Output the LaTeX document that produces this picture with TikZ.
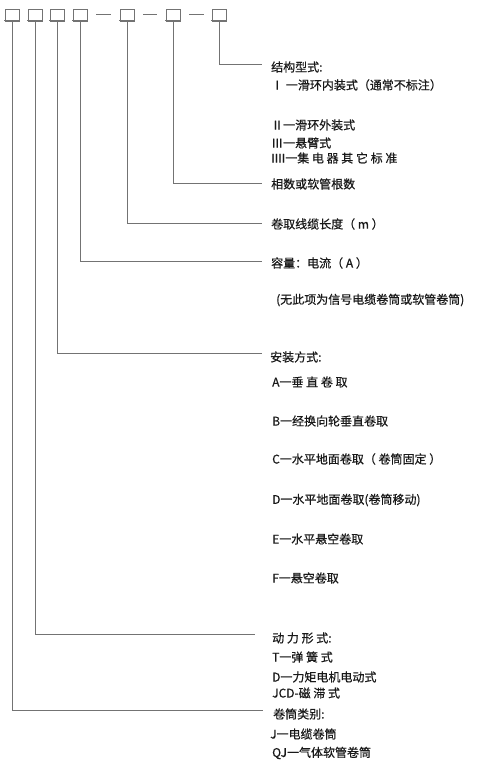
\documentclass[tikz,border=0pt]{standalone}
\usepackage{fontspec}
\setmainfont{Noto Sans CJK SC}[UprightFeatures={FakeBold=0.6}]
\begin{document}
\begin{tikzpicture}[x=1pt,y=-1pt,
  cell/.style={draw=black!55,line width=0.9pt,minimum width=14pt,minimum height=12pt,inner sep=0pt,fill=white},
  conn/.style={draw=black!55,line width=0.9pt},
  lbl/.style={anchor=west,inner sep=0pt,text=black!90,font=\fontsize{12}{14}\selectfont}]
\useasboundingbox (0,0) rectangle (494,765);
% boxes
\foreach \n/\x in {1/12,2/35,3/57,4/80,5/127,6/173,7/219}{
  \node[cell] (b\n) at (\x,15) {};
  \draw[conn] ([xshift=-0.5pt,yshift=1.3pt]b\n.south west) -- ([xshift=0.5pt,yshift=1.3pt]b\n.south east);
}
\draw[conn] (96,14) -- (111,14);
\draw[conn] (143,14) -- (157,14);
\draw[conn] (189,14) -- (204,14);
% end coordinates
\coordinate (c7) at (262,64);
\coordinate (c6) at (262,183);
\coordinate (c5) at (262,223);
\coordinate (c4) at (262,261);
\coordinate (c3) at (262,353);
\coordinate (c2) at (255,634);
\coordinate (c1) at (263,710);
\foreach \n in {1,...,7}{\draw[conn] (b\n.south) |- (c\n);}
% labels
\node[lbl] (t7) at (271,67) {结构型式:};
\node[lbl] (t7a) at (271,85) {Ⅰ 一滑环内装式（通常不标注）};
\node[lbl] (t7b) at (271,125) {Ⅱ一滑环外装式};
\node[lbl] (t7c) at (271,143) {Ⅲ一悬臂式};
\node[lbl] (t7d) at (271,158) {IIII一集 电 器 其 它 标 准};
\node[lbl] (t6) at (271,184) {相数或软管根数};
\node[lbl] (t5) at (271,224) {卷取线缆长度（ m ）};
\node[lbl] (t4) at (271,263) {容量：电流（ A ）};
\node[lbl] (t4a) at (276,300) {(无此项为信号电缆卷筒或软管卷筒)};
\node[lbl] (t3) at (270,357) {安装方式:};
\node[lbl] (t3a) at (272,382) {A一垂 直 卷 取};
\node[lbl] (t3b) at (272,421) {B一经换向轮垂直卷取};
\node[lbl] (t3c) at (272,459) {C一水平地面卷取（ 卷筒固定 ）};
\node[lbl] (t3d) at (272,500) {D一水平地面卷取(卷筒移动)};
\node[lbl] (t3e) at (272,539) {E一水平悬空卷取};
\node[lbl] (t3f) at (272,578) {F一悬空卷取};
\node[lbl] (t2) at (272,638) {动 力 形 式:};
\node[lbl] (t2a) at (272,657) {T一弹 簧 式};
\node[lbl] (t2b) at (272,677) {D一力矩电机电动式};
\node[lbl] (t2c) at (272,693) {JCD-磁 滞 式};
\node[lbl] (t1) at (273,714) {卷筒类别:};
\node[lbl] (t1a) at (270,734) {J一电缆卷筒};
\node[lbl] (t1b) at (272,753) {QJ一气体软管卷筒};
\end{tikzpicture}
\end{document}
